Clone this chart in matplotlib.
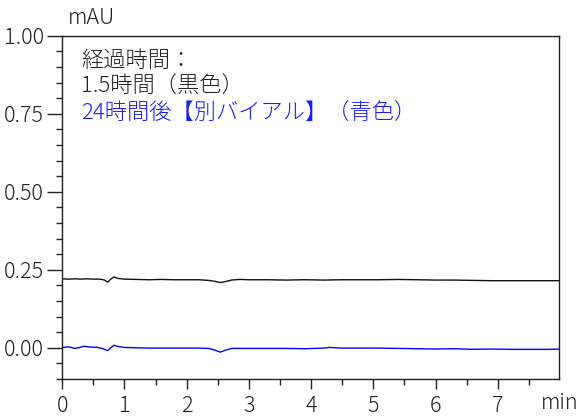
import matplotlib
matplotlib.use("Agg")
import matplotlib.pyplot as plt
from matplotlib.ticker import MultipleLocator

plt.rcParams['font.family'] = ['Noto Sans CJK JP', 'DejaVu Sans']

# --- data ---
time_black = [0.00, 0.10, 0.20, 0.30, 0.40, 0.50, 0.60, 0.68, 0.73, 0.78, 0.83, 0.90,
              1.00, 1.20, 1.40, 1.60, 1.80, 2.00, 2.20, 2.35, 2.45, 2.54, 2.62, 2.72,
              2.85, 3.00, 3.30, 3.60, 3.90, 4.20, 4.50, 4.80, 5.10, 5.40, 5.70, 6.00,
              6.30, 6.60, 6.90, 7.20, 7.50, 7.80, 7.99]
signal_black = [0.221, 0.220, 0.221, 0.220, 0.221, 0.220, 0.220, 0.217, 0.210, 0.220, 0.227, 0.222,
                0.220, 0.219, 0.218, 0.219, 0.218, 0.218, 0.218, 0.216, 0.213, 0.209, 0.212, 0.217,
                0.219, 0.218, 0.218, 0.217, 0.218, 0.217, 0.218, 0.218, 0.218, 0.219, 0.218, 0.217,
                0.217, 0.216, 0.215, 0.215, 0.215, 0.215, 0.215]

time_blue = [0.00, 0.10, 0.20, 0.28, 0.35, 0.45, 0.55, 0.65, 0.73, 0.78, 0.83, 0.90,
             1.00, 1.20, 1.40, 1.60, 1.80, 2.00, 2.20, 2.35, 2.45, 2.54, 2.62, 2.72,
             2.85, 3.00, 3.30, 3.60, 3.90, 4.20, 4.30, 4.50, 4.80, 5.10, 5.40, 5.70,
             6.00, 6.30, 6.60, 6.90, 7.20, 7.50, 7.80, 7.99]
signal_blue = [0.001, 0.003, -0.002, 0.001, 0.005, 0.002, 0.002, -0.003, -0.009, 0.000, 0.008, 0.004,
               0.001, 0.000, -0.001, -0.001, -0.001, -0.001, -0.001, -0.002, -0.007, -0.014, -0.008, -0.002,
               -0.002, -0.002, -0.002, -0.002, -0.003, -0.001, 0.001, -0.001, -0.001, -0.001, -0.002, -0.003,
               -0.004, -0.003, -0.005, -0.004, -0.005, -0.005, -0.005, -0.004]

legend_lines = ["経過時間：", "1.5時間（黒色）", "24時間後【別バイアル】（青色）"]
legend_colors = ["#222222", "#222222", "#1a1aff"]

x_ticks = [0, 1, 2, 3, 4, 5, 6, 7]
y_ticks = [0.00, 0.25, 0.50, 0.75, 1.00]

FS = 15.5
FS_LEG = 16

# --- figure ---
fig = plt.figure(figsize=(5.8, 4.16), dpi=100)
ax = fig.add_axes([0.1074, 0.0882, 0.8569, 0.8260])

ax.plot(time_black, signal_black, color="#111111", lw=1.0)
ax.plot(time_blue, signal_blue, color="#0000ff", lw=1.0)

ax.set_xlim(0, 7.99)
ax.set_ylim(-0.101, 1.0)
ax.set_xticks(x_ticks)
ax.set_xticklabels([str(t) for t in x_ticks])
ax.set_yticks(y_ticks)
ax.set_yticklabels([f"{v:.2f}" for v in y_ticks])
ax.xaxis.set_minor_locator(MultipleLocator(0.5))
ax.yaxis.set_minor_locator(MultipleLocator(0.05))

ax.tick_params(axis='both', which='major', labelsize=FS, width=1.0,
               color='#222222', labelcolor='#222222')
ax.tick_params(axis='x', which='major', length=7, pad=4)
ax.tick_params(axis='y', which='major', length=11, pad=2)
ax.tick_params(axis='both', which='minor', length=4, width=1.0, color='#222222')
for s in ax.spines.values():
    s.set_linewidth(1.0)
    s.set_color('#222222')

for lbl in ax.get_xticklabels() + ax.get_yticklabels():
    lbl.set_fontweight('light')

fig.text(0.117, 1 - 18 / 416, "mAU", fontsize=FS, color='#222222', ha='left', va='center',
         fontweight='light')
fig.text(541 / 580, 1 - 403 / 416, "min", fontsize=FS, color='#222222', ha='left', va='center',
         fontweight='light')

for i, (t, c) in enumerate(zip(legend_lines, legend_colors)):
    yc = 60.5 + i * 26.7
    fig.text(81 / 580, 1 - yc / 416, t, fontsize=FS_LEG, color=c, ha='left', va='center',
             fontweight='light')

fig.savefig("out.png", dpi=100)
